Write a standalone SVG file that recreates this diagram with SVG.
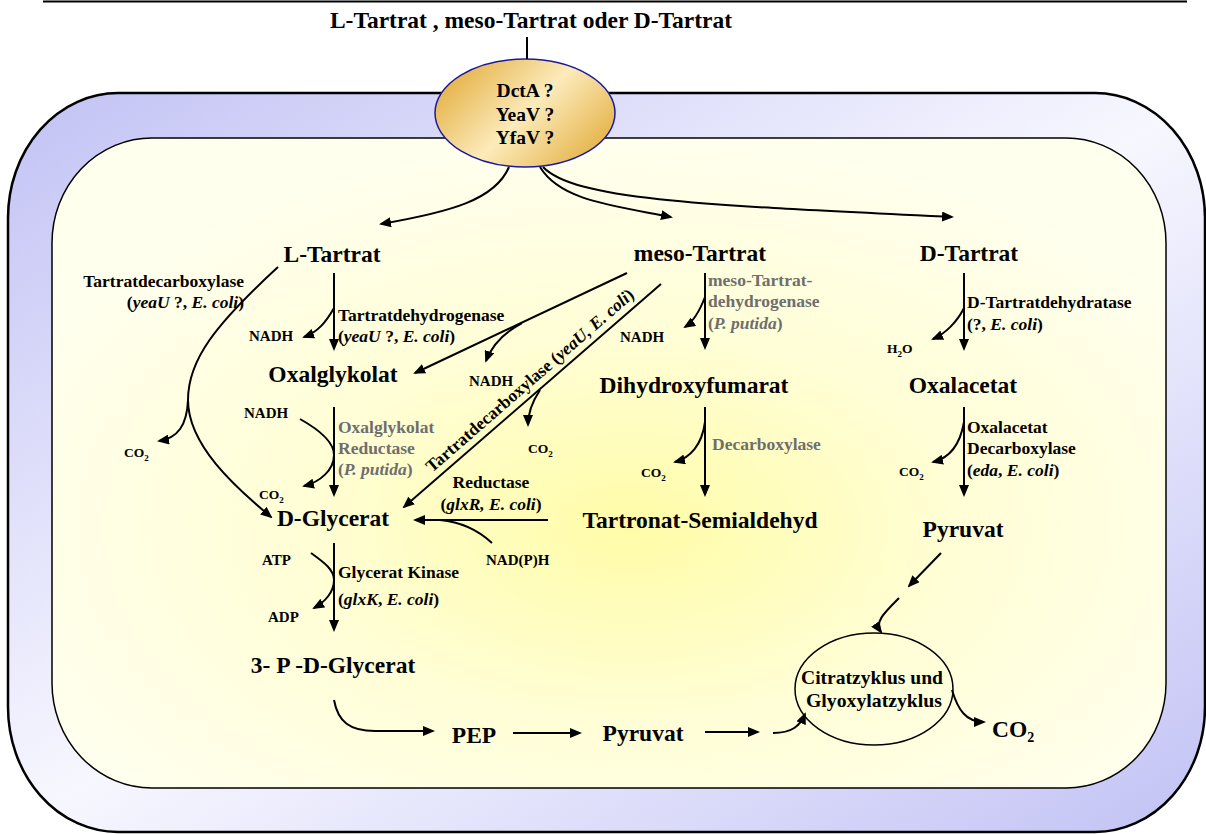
<svg xmlns="http://www.w3.org/2000/svg" width="1206" height="834" viewBox="0 0 1206 834">
<defs>
<linearGradient id="gOuter" x1="0" y1="0" x2="1" y2="1">
<stop offset="0" stop-color="#C2C2F5"/>
<stop offset="0.5" stop-color="#F7F7FF"/>
<stop offset="1" stop-color="#C2C2F5"/>
</linearGradient>
<radialGradient id="gInner" cx="0.52" cy="0.6" r="0.6">
<stop offset="0" stop-color="#FFFCA8"/>
<stop offset="0.5" stop-color="#FFFED6"/>
<stop offset="1" stop-color="#FFFFEE"/>
</radialGradient>
<linearGradient id="gTrans" x1="0" y1="0.2" x2="1" y2="0.8">
<stop offset="0" stop-color="#E3AE3E"/>
<stop offset="0.5" stop-color="#FCEBBB"/>
<stop offset="1" stop-color="#E3AE3E"/>
</linearGradient>
<marker id="ah" viewBox="0 0 12 10" refX="10" refY="5" markerWidth="12" markerHeight="10" markerUnits="userSpaceOnUse" orient="auto">
<path d="M0,0 L12,5 L0,10 z" fill="#000"/>
</marker>
<style>
text{font-family:"Liberation Serif","Times New Roman",serif;font-weight:bold;fill:#000}
.main{font-size:23.5px;text-anchor:middle}
.enz{font-size:17.5px}
.grey{fill:#6e6e6e}
.sm{font-size:15px}
.co{font-size:13.5px}
.sub{font-size:9px}
.c{fill:none;stroke:#000;stroke-width:2}
.a{marker-end:url(#ah)}
</style>
</defs>

<line x1="43" y1="1.5" x2="1187" y2="1.5" stroke="#000" stroke-width="2"/>

<g id="cell">
<rect x="8" y="93" width="1197" height="739" rx="110" ry="125" fill="url(#gOuter)" stroke="#000" stroke-width="2.5"/>
<rect x="52" y="138" width="1114" height="650" rx="100" ry="105" fill="url(#gInner)" stroke="#000" stroke-width="1.5"/>
</g>

<g id="title">
<text class="main" x="531" y="28">L-Tartrat , meso-Tartrat oder D-Tartrat</text>
</g>

<g id="transporter">
<ellipse cx="525" cy="113" rx="90" ry="54" fill="url(#gTrans)" stroke="#1A1AA0" stroke-width="1.5"/>
<text x="525" y="97" text-anchor="middle" font-size="19.5">DctA ?</text>
<text x="525" y="121" text-anchor="middle" font-size="19.5">YeaV ?</text>
<text x="525" y="144" text-anchor="middle" font-size="19.5">YfaV ?</text>
</g>

<g id="n-ltartrat"><text class="main" x="332" y="262">L-Tartrat</text></g>
<g id="n-mesotartrat"><text class="main" x="700" y="261">meso-Tartrat</text></g>
<g id="n-dtartrat"><text class="main" x="969" y="261">D-Tartrat</text></g>
<g id="n-oxalglykolat"><text class="main" x="333" y="382">Oxalglykolat</text></g>
<g id="n-dihydroxyfumarat"><text class="main" x="694" y="393">Dihydroxyfumarat</text></g>
<g id="n-oxalacetat"><text class="main" x="963" y="393">Oxalacetat</text></g>
<g id="n-dglycerat"><text class="main" x="333" y="526">D-Glycerat</text></g>
<g id="n-tartronat"><text class="main" x="700" y="528">Tartronat-Semialdehyd</text></g>
<g id="n-pyruvat1"><text class="main" x="963" y="537">Pyruvat</text></g>
<g id="n-3pdglycerat"><text class="main" x="333" y="673">3- P -D-Glycerat</text></g>
<g id="n-pep"><text class="main" x="474" y="743">PEP</text></g>
<g id="n-pyruvat2"><text class="main" x="643" y="741">Pyruvat</text></g>
<g id="n-co2out"><text x="992" y="737" font-size="23.5">CO<tspan font-size="14" dy="5">2</tspan></text></g>
<g id="n-cycle">
<ellipse cx="874" cy="689" rx="79" ry="56" fill="none" stroke="#000" stroke-width="1.5"/>
<text x="872" y="684" text-anchor="middle" font-size="19.5" textLength="142" lengthAdjust="spacingAndGlyphs">Citratzyklus und</text>
<text x="874" y="707" text-anchor="middle" font-size="19.5" textLength="136" lengthAdjust="spacingAndGlyphs">Glyoxylatzyklus</text>
</g>

<g id="connectors">
<path class="c" d="M527,37 L527,59" stroke-width="1.5"/>
<path class="c a" d="M509,167 C495,200 450,212 381,224"/>
<path class="c a" d="M540,167 C560,200 610,205 671,217"/>
<path class="c a" d="M543,167 C575,200 700,205 952,217"/>

<path class="c a" d="M334,273 L334,349"/>
<path class="c a" d="M334,308 C326,322 318,332 304,337"/>
<path class="c" d="M278,267 C215,325 188,360 188,400"/>
<path class="c a" d="M188,400 C188,445 235,487 271,517"/>
<path class="c a" d="M188,400 C187,425 178,438 159,441"/>
<path class="c a" d="M334,407 L334,495"/>
<path class="c" d="M300,419 C325,433 334,445 334,455"/>
<path class="c a" d="M334,455 C334,470 320,482 304,486"/>

<path class="c a" d="M627,273 L415,373"/>
<path class="c a" d="M522,323 C505,332 492,345 486,361"/>
<path class="c a" d="M661,284 L404,507"/>
<path class="c a" d="M540,390 C532,402 528,412 528,425"/>

<path class="c a" d="M705,273 L705,348"/>
<path class="c a" d="M705,297 C700,310 693,322 685,327"/>
<path class="c a" d="M705,407 L705,495"/>
<path class="c a" d="M705,422 C702,445 690,458 675,462"/>

<path class="c a" d="M548,520 L415,520"/>
<path class="c" d="M492,543 C478,530 462,522 440,520"/>

<path class="c a" d="M334,543 L334,630"/>
<path class="c" d="M311,553 C325,563 334,570 334,580"/>
<path class="c a" d="M334,580 C334,592 325,602 314,608"/>

<path class="c a" d="M334,700 C338,722 350,731 375,731 L433,731"/>
<path class="c a" d="M513,733 L580,733"/>
<path class="c a" d="M705,732 L758,732"/>
<path class="c a" d="M773,733 C792,733 800,726 805,714"/>

<path class="c a" d="M964,273 L964,349"/>
<path class="c a" d="M964,308 C957,322 945,334 933,339"/>
<path class="c a" d="M964,407 L964,495"/>
<path class="c a" d="M964,422 C960,445 950,458 933,462"/>

<path class="c a" d="M941,553 L909,586"/>
<path class="c a" d="M899,598 C885,612 874,622 881,632"/>
<path class="c a" d="M952,690 C958,710 966,722 984,722"/>
</g>

<g id="labels">
<text class="enz" x="244" y="287" text-anchor="end">Tartratdecarboxylase</text>
<text class="enz" x="244" y="308" text-anchor="end">(<tspan font-style="italic">yeaU</tspan> ?, <tspan font-style="italic">E. coli</tspan>)</text>

<text class="enz" x="338" y="321">Tartratdehydrogenase</text>
<text class="enz" x="338" y="342">(<tspan font-style="italic">yeaU</tspan> ?, <tspan font-style="italic">E. coli</tspan>)</text>
<text class="sm" x="249" y="341">NADH</text>
<text class="co" x="124" y="457">CO<tspan class="sub" dy="4">2</tspan></text>

<text class="enz grey" x="338" y="433">Oxalglykolat</text>
<text class="enz grey" x="338" y="454">Reductase</text>
<text class="enz grey" x="338" y="475">(<tspan font-style="italic">P. putida</tspan>)</text>
<text class="sm" x="244" y="418">NADH</text>
<text class="co" x="259" y="499">CO<tspan class="sub" dy="4">2</tspan></text>

<text class="sm" x="469" y="386">NADH</text>
<text class="co" x="528" y="453">CO<tspan class="sub" dy="4">2</tspan></text>
<text class="enz" transform="translate(432,473) rotate(-41)">Tartratdecarboxylase (<tspan font-style="italic">yeaU, E. coli</tspan>)</text>

<text class="sm" x="620" y="342">NADH</text>
<text class="enz grey" x="708" y="286">meso-Tartrat-</text>
<text class="enz grey" x="708" y="307">dehydrogenase</text>
<text class="enz grey" x="708" y="329">(<tspan font-style="italic">P. putida</tspan>)</text>
<text class="co" x="641" y="477">CO<tspan class="sub" dy="4">2</tspan></text>
<text class="enz grey" x="712" y="450">Decarboxylase</text>

<text class="enz" x="491" y="488" text-anchor="middle">Reductase</text>
<text class="enz" x="491" y="510" text-anchor="middle">(<tspan font-style="italic">glxR, E. coli</tspan>)</text>
<text class="sm" x="486" y="565">NAD(P)H</text>

<text class="sm" x="262" y="565">ATP</text>
<text class="sm" x="268" y="622">ADP</text>
<text class="enz" x="338" y="578">Glycerat Kinase</text>
<text class="enz" x="338" y="605">(<tspan font-style="italic">glxK</tspan>, <tspan font-style="italic">E. coli</tspan>)</text>

<text class="enz" x="967" y="308">D-Tartratdehydratase</text>
<text class="enz" x="967" y="330">(?, <tspan font-style="italic">E. coli</tspan>)</text>
<text class="co" x="887" y="353">H<tspan class="sub" dy="4">2</tspan><tspan dy="-4">O</tspan></text>

<text class="enz" x="967" y="433">Oxalacetat</text>
<text class="enz" x="967" y="454">Decarboxylase</text>
<text class="enz" x="967" y="476">(<tspan font-style="italic">eda</tspan>, <tspan font-style="italic">E. coli</tspan>)</text>
<text class="co" x="899" y="476">CO<tspan class="sub" dy="4">2</tspan></text>
</g>
</svg>
